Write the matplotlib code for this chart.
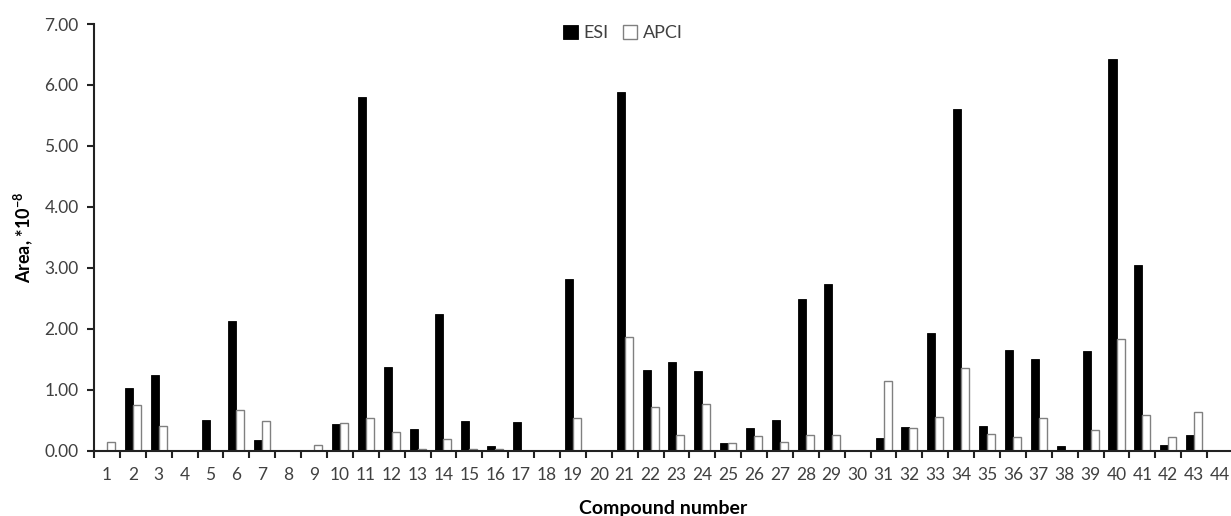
import numpy as np
import matplotlib
matplotlib.use("Agg")
import matplotlib.pyplot as plt
from matplotlib.ticker import FixedLocator, FormatStrFormatter

# values (Area, *10^-8)
compounds = list(range(1, 45))
esi = [0.00, 1.03, 1.25, 0.00, 0.51, 2.12, 0.18, 0.00, 0.00, 0.43,
       5.81, 1.37, 0.36, 2.24, 0.49, 0.07, 0.47, 0.00, 2.82, 0.00,
       5.88, 1.32, 1.46, 1.31, 0.12, 0.38, 0.50, 2.49, 2.73, 0.00,
       0.21, 0.39, 1.93, 5.61, 0.41, 1.66, 1.51, 0.08, 1.64, 6.42,
       3.05, 0.10, 0.26, 0.00]
apci = [0.14, 0.75, 0.41, 0.00, 0.00, 0.66, 0.48, 0.00, 0.10, 0.46,
        0.54, 0.31, 0.02, 0.20, 0.03, 0.03, 0.00, 0.00, 0.53, 0.00,
        1.87, 0.71, 0.25, 0.76, 0.13, 0.24, 0.14, 0.25, 0.25, 0.00,
        1.14, 0.38, 0.55, 1.35, 0.27, 0.22, 0.53, 0.00, 0.34, 1.84,
        0.58, 0.22, 0.64, 0.00]
series_names = ["ESI", "APCI"]

plt.rcParams["font.family"] = ["Lato", "DejaVu Sans"]
plt.rcParams["mathtext.fontset"] = "custom"
plt.rcParams["mathtext.rm"] = "Lato:bold"
plt.rcParams["mathtext.bf"] = "Lato:bold"
txt = "#404040"

fig = plt.figure(figsize=(12.31, 5.16), dpi=100)
# axes runs slightly past the right edge, as in the cropped original
ax = fig.add_axes([94 / 1231, 65.3 / 516, 1139 / 1231, 426.7 / 516])

x = np.array(compounds)
w = 0.31
ax.bar(x - w / 2, esi, w, color="black", edgecolor="black", linewidth=0.6,
       label=series_names[0])
ax.bar(x + w / 2, apci, w, color="white", edgecolor="#808080", linewidth=1.0,
       label=series_names[1])

ax.set_xlim(0.5, 44.5)
ax.set_ylim(0, 7)
ax.set_yticks(np.arange(0, 7.01, 1.0))
ax.yaxis.set_major_formatter(FormatStrFormatter("%.2f"))
ax.set_xticks(x)
ax.set_xticklabels([str(c) for c in compounds])
ax.xaxis.set_minor_locator(FixedLocator(np.arange(0.5, 44.6, 1.0)))
ax.tick_params(axis="x", which="major", length=0, pad=12, labelsize=12.5,
               labelcolor=txt)
ax.tick_params(axis="x", which="minor", length=5, width=1.5, direction="out",
               color="#222222")
ax.tick_params(axis="y", length=5, width=1.5, direction="out", color="#222222",
               labelsize=12.5, labelcolor=txt, pad=6)

for s in ["top", "right"]:
    ax.spines[s].set_visible(False)
for s in ["left", "bottom"]:
    ax.spines[s].set_linewidth(1.5)
    ax.spines[s].set_color("#222222")

ax.set_xlabel("Compound number", fontsize=14, fontweight="bold", labelpad=12)
ax.set_ylabel(r"Area, *10$^{\mathrm{-8}}$", fontsize=13, fontweight="bold",
              labelpad=7)

fig.legend(loc="center", bbox_to_anchor=(623 / 1231, 1 - 33 / 516), ncol=2,
           frameon=False, fontsize=13, handlelength=0.8, handleheight=0.8,
           handletextpad=0.3, columnspacing=0.8, labelcolor=txt)

fig.savefig("out.png", dpi=100)
